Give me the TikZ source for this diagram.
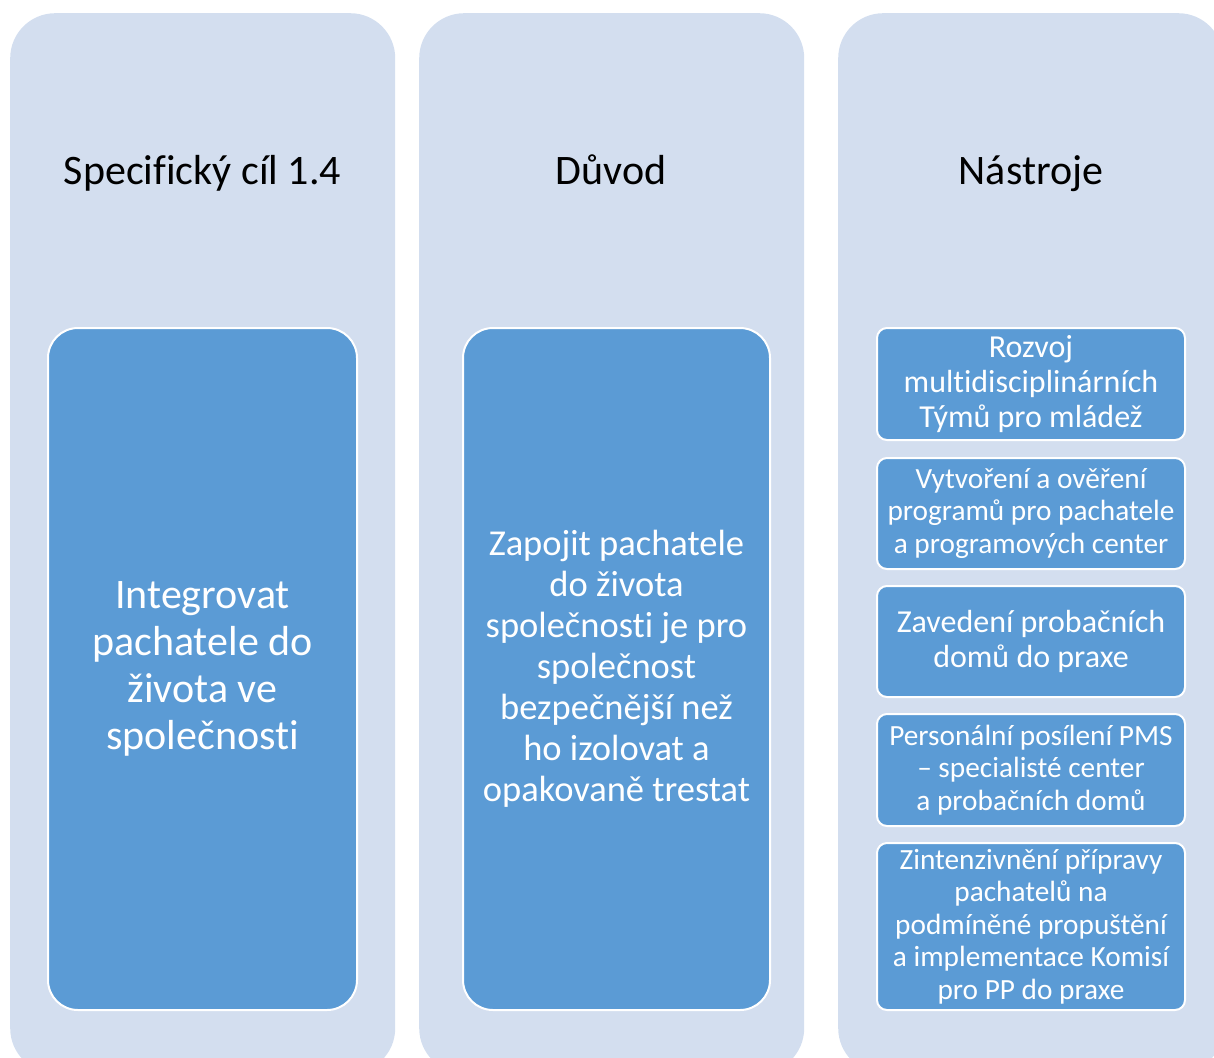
\documentclass[tikz,border=0pt]{standalone}
\usepackage{fontspec}
\setmainfont{Carlito}[Ligatures={NoCommon}]
\definecolor{colbg}{RGB}{211,222,239}
\definecolor{boxblue}{RGB}{91,155,213}
\begin{document}
\begin{tikzpicture}[x=1pt,y=-1pt,
  colbox/.style={fill=colbg, rounded corners=45pt, minimum width=385pt, minimum height=1060pt, anchor=north west, inner sep=0pt},
  head/.style={font=\fontsize{42}{47}\selectfont, text=black, anchor=base, inner sep=0pt},
  bigbox/.style={fill=boxblue, draw=white, line width=2pt, rounded corners=30pt, inner sep=0pt, align=center, text=white},
  item/.style={fill=boxblue, draw=white, line width=2pt, rounded corners=10pt, inner sep=0pt, align=center, text=white, minimum width=308pt},
  itemA/.style={item, font=\fontsize{32}{35}\selectfont},
  itemB/.style={item, font=\fontsize{29.3}{32.5}\selectfont}]
\useasboundingbox (0,0) rectangle (1214,1057);
\clip (0,0) rectangle (1214,1057);
% columns
\node[colbox] (col1) at (10,13) {};
\node[colbox] (col2) at (419,13) {};
\node[colbox] (col3) at (838,13) {};
% headers
\node[head] (h1) at (202.5,184) {Specifický cíl 1.4};
\node[head] (h2) at (611,184) {Důvod};
\node[head] (h3) at (1031,184) {Nástroje};
% big boxes
\node[bigbox, minimum width=309pt, minimum height=682pt, font=\fontsize{42}{47}\selectfont] (b1) at (202.5,669)
  {Integrovat\\pachatele do\\života ve\\společnosti};
\node[bigbox, minimum width=307pt, minimum height=682pt, font=\fontsize{36.5}{41}\selectfont] (b2) at (616.5,669)
  {Zapojit pachatele\\do života\\společnosti je pro\\společnost\\bezpečnější než\\ho izolovat a\\opakovaně trestat};
% tools
\node[itemA, minimum height=112pt] (t1) at (1031,384) {Rozvoj\\multidisciplinárních\\Týmů pro mládež};
\node[itemB, minimum height=111pt] (t2) at (1031,513.5) {Vytvoření a ověření\\programů pro pachatele\\a programových center};
\node[itemA, minimum height=111pt] (t3) at (1031,641.5) {Zavedení probačních\\domů do praxe};
\node[itemB, minimum height=112pt] (t4) at (1031,770) {Personální posílení PMS\\– specialisté center\\a probačních domů};
\node[itemB, minimum height=167pt] (t5) at (1031,926.5) {Zintenzivnění přípravy\\pachatelů na\\podmíněné propuštění\\a implementace Komisí\\pro PP do praxe};
\end{tikzpicture}
\end{document}
